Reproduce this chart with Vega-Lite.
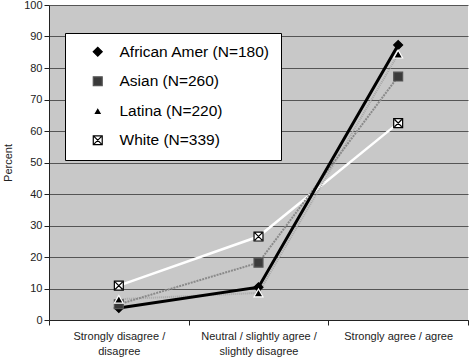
{
  "$schema": "https://vega.github.io/schema/vega-lite/v6.json",
  "width": 419,
  "height": 315,
  "autosize": {"type": "none"},
  "padding": {"left": 49, "top": 5, "right": 1, "bottom": 40},
  "background": "white",
  "config": {
    "font": "Liberation Sans",
    "view": {"fill": "#c8c8c8", "stroke": null}
  },
  "data": {
    "values": [
      {"group": "African Amer (N=180)", "response": "Strongly disagree / disagree", "pct": 3.8},
      {"group": "African Amer (N=180)", "response": "Neutral / slightly agree / slightly disagree", "pct": 10.4},
      {"group": "African Amer (N=180)", "response": "Strongly agree / agree", "pct": 87.3},
      {"group": "Asian (N=260)", "response": "Strongly disagree / disagree", "pct": 5.0},
      {"group": "Asian (N=260)", "response": "Neutral / slightly agree / slightly disagree", "pct": 18.2},
      {"group": "Asian (N=260)", "response": "Strongly agree / agree", "pct": 77.3},
      {"group": "Latina (N=220)", "response": "Strongly disagree / disagree", "pct": 6.6},
      {"group": "Latina (N=220)", "response": "Neutral / slightly agree / slightly disagree", "pct": 8.6},
      {"group": "Latina (N=220)", "response": "Strongly agree / agree", "pct": 84.4},
      {"group": "White (N=339)", "response": "Strongly disagree / disagree", "pct": 10.9},
      {"group": "White (N=339)", "response": "Neutral / slightly agree / slightly disagree", "pct": 26.5},
      {"group": "White (N=339)", "response": "Strongly agree / agree", "pct": 62.5}
    ]
  },
  "encoding": {
    "x": {
      "field": "response", "type": "nominal",
      "sort": ["Strongly disagree / disagree", "Neutral / slightly agree / slightly disagree", "Strongly agree / agree"],
      "scale": {"type": "band", "paddingInner": 0, "paddingOuter": 0},
      "axis": {
        "title": null, "labelAngle": 0, "tickBand": "extent", "domainColor": "#222", "tickColor": "#222",
        "labelFontSize": 11, "labelColor": "#222", "labelPadding": 5, "labelLineHeight": 15,
        "labelExpr": "datum.label == 'Strongly disagree / disagree' ? ['Strongly disagree /', 'disagree'] : datum.label == 'Neutral / slightly agree / slightly disagree' ? ['Neutral / slightly agree /', 'slightly disagree'] : datum.label",
        "grid": false
      }
    },
    "y": {
      "field": "pct", "type": "quantitative",
      "scale": {"domain": [0, 100], "nice": false},
      "axis": {
        "title": "Percent", "titleFontSize": 11, "titleFontWeight": "normal", "titleColor": "#222", "titlePadding": 10,
        "values": [0, 10, 20, 30, 40, 50, 60, 70, 80, 90, 100],
        "labelFontSize": 11, "labelColor": "#222", "domainColor": "#222", "tickColor": "#222",
        "grid": true, "gridColor": "#555", "gridOpacity": 1, "gridWidth": 1
      }
    }
  },
  "layer": [
    {
      "transform": [{"filter": "datum.group == 'White (N=339)'"}],
      "mark": {"type": "line", "stroke": "#ffffff", "strokeWidth": 2.5},
      "encoding": {}
    },
    {
      "transform": [{"filter": "datum.group == 'Latina (N=220)'"}],
      "mark": {"type": "line", "stroke": "#a8a8a8", "strokeWidth": 2, "strokeDash": [1, 1]},
      "encoding": {}
    },
    {
      "transform": [{"filter": "datum.group == 'Asian (N=260)'"}],
      "mark": {"type": "line", "stroke": "#8a8a8a", "strokeWidth": 2, "strokeDash": [2, 1]},
      "encoding": {}
    },
    {
      "transform": [{"filter": "datum.group == 'African Amer (N=180)'"}],
      "mark": {"type": "line", "stroke": "#000000", "strokeWidth": 3},
      "encoding": {}
    },
    {
      "mark": {"type": "point", "filled": true, "opacity": 1, "strokeWidth": 1.2, "size": 80},
      "encoding": {
        "shape": {"field": "group", "type": "nominal",
          "scale": {"domain": ["African Amer (N=180)", "Asian (N=260)", "Latina (N=220)", "White (N=339)"],
            "range": ["diamond", "square", "triangle-up", "M-1,-1H1V1H-1Z M-0.8,-0.8L0.8,0.8 M0.8,-0.8L-0.8,0.8"]},
          "legend": {
            "title": null, "orient": "none", "legendX": 16, "legendY": 28,
            "fillColor": "white", "strokeColor": "#000", "padding": 11, "cornerRadius": 0,
            "labelFontSize": 15.5, "labelColor": "#000", "labelLimit": 300,
            "symbolSize": 80, "symbolOffset": 14, "labelOffset": 14, "rowPadding": 12.5, "symbolStrokeWidth": 1.2
          }},
        "fill": {"field": "group", "type": "nominal",
          "scale": {"domain": ["African Amer (N=180)", "Asian (N=260)", "Latina (N=220)", "White (N=339)"], "range": ["#000000", "#3a3a3a", "#000000", "#ffffff"]}},
        "stroke": {"field": "group", "type": "nominal",
          "scale": {"domain": ["African Amer (N=180)", "Asian (N=260)", "Latina (N=220)", "White (N=339)"], "range": ["#000000", "#555555", "#ffffff", "#000000"]}}
      }
    }
  ]
}
